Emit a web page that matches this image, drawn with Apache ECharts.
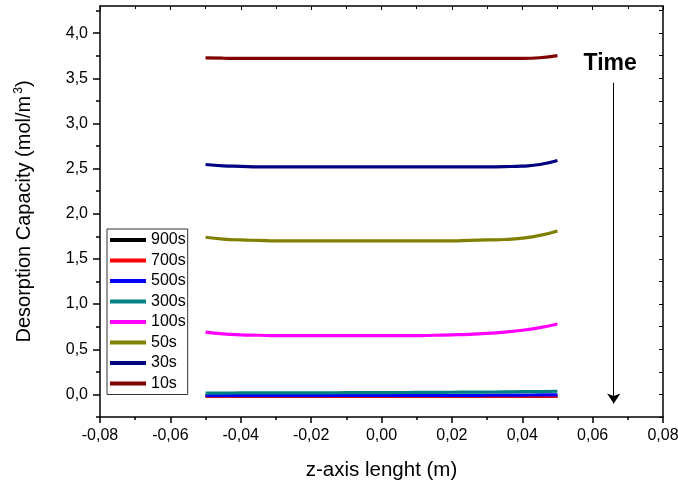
<!DOCTYPE html>
<html>
<head>
<meta charset="utf-8">
<script src="https://cdn.jsdelivr.net/npm/echarts@6/dist/echarts.min.js"></script>
<style>
  html, body { margin: 0; padding: 0; background: #fff; }
  #chart { width: 678px; height: 481px; }
</style>
</head>
<body>
<div id="chart"></div>
<script>
// Position along the column (m)
const zPos = [-0.05, -0.045, -0.04, -0.035, -0.03, -0.025, -0.02, -0.015, -0.01, -0.005, 0,
              0.005, 0.01, 0.015, 0.02, 0.025, 0.03, 0.035, 0.04, 0.045, 0.05];

// Desorption capacity profiles (mol/m3) at each time
const c10s  = [3.725, 3.722, 3.72, 3.72, 3.72, 3.72, 3.72, 3.72, 3.72, 3.72, 3.72,
               3.72, 3.72, 3.72, 3.72, 3.72, 3.72, 3.72, 3.72, 3.727, 3.75];
const c30s  = [2.545, 2.53, 2.525, 2.52, 2.52, 2.52, 2.52, 2.52, 2.52, 2.52, 2.52,
               2.52, 2.52, 2.52, 2.52, 2.52, 2.52, 2.522, 2.528, 2.545, 2.59];
const c50s  = [1.74, 1.72, 1.71, 1.705, 1.70, 1.70, 1.70, 1.70, 1.70, 1.70, 1.70,
               1.70, 1.70, 1.70, 1.70, 1.705, 1.71, 1.715, 1.73, 1.76, 1.81];
const c100s = [0.69, 0.67, 0.66, 0.655, 0.65, 0.65, 0.65, 0.65, 0.65, 0.65, 0.65,
               0.65, 0.65, 0.655, 0.66, 0.665, 0.675, 0.69, 0.71, 0.74, 0.78];
const c300s = [0.015, 0.015, 0.016, 0.016, 0.017, 0.017, 0.018, 0.018, 0.019, 0.019, 0.02,
               0.021, 0.022, 0.023, 0.024, 0.025, 0.026, 0.028, 0.03, 0.032, 0.035];
const c500s = [-0.01, -0.01, -0.01, -0.01, -0.01, -0.01, -0.01, -0.01, -0.01, -0.01, -0.01,
               -0.01, -0.01, -0.01, -0.01, -0.01, -0.009, -0.008, -0.007, -0.006, -0.005];
const c700s = [-0.02, -0.02, -0.02, -0.02, -0.02, -0.02, -0.02, -0.02, -0.02, -0.02, -0.02,
               -0.02, -0.02, -0.02, -0.02, -0.02, -0.02, -0.02, -0.02, -0.02, -0.02];
const c900s = [-0.02, -0.02, -0.02, -0.02, -0.02, -0.02, -0.02, -0.02, -0.02, -0.02, -0.02,
               -0.02, -0.02, -0.02, -0.02, -0.02, -0.02, -0.02, -0.02, -0.02, -0.02];

const seriesNames  = ['900s', '700s', '500s', '300s', '100s', '50s', '30s', '10s'];
const seriesValues = [c900s, c700s, c500s, c300s, c100s, c50s, c30s, c10s];
const seriesColors = ['#000000', '#ff0000', '#0000ff', '#008080', '#ff00ff', '#808000', '#000080', '#800000'];

// Axis ticks
const yMajor = [0, 0.5, 1.0, 1.5, 2.0, 2.5, 3.0, 3.5, 4.0];
const yMinor = [-0.25, 0.25, 0.75, 1.25, 1.75, 2.25, 2.75, 3.25, 3.75, 4.25];
const yAll   = [-0.25, 0, 0.25, 0.5, 0.75, 1.0, 1.25, 1.5, 1.75, 2.0, 2.25, 2.5, 2.75, 3.0, 3.25, 3.5, 3.75, 4.0, 4.25];

// "Time" arrow annotation (data coordinates)
const timeLabel = [0.065, 3.66];
const timeArrow = [[0.066, 3.45], [0.066, -0.1]];

const fontFamily = '"Liberation Sans", Arial, sans-serif';
const comma = (v, d) => v.toFixed(d).replace('.', ',');

const chart = echarts.init(document.getElementById('chart'), null, { renderer: 'canvas' });

const series = seriesNames.map((name, i) => {
  const s = {
    name: name,
    type: 'line',
    smooth: true,
    showSymbol: false,
    symbol: 'none',
    xAxisIndex: 0,
    yAxisIndex: 0,
    data: zPos.map((z, k) => [z, seriesValues[i][k]]),
    lineStyle: { width: 3.2, color: seriesColors[i] },
    itemStyle: { color: seriesColors[i] },
    emphasis: { disabled: true },
    z: 2 + i
  };
  if (i === 0) {
    s.markLine = {
      silent: true,
      symbol: ['none', 'arrow'],
      symbolSize: 10,
      label: { show: false },
      lineStyle: { color: '#000', width: 1, type: 'solid' },
      itemStyle: { color: '#000' },
      data: [[{ coord: timeArrow[0] }, { coord: timeArrow[1] }]]
    };
    s.markPoint = {
      silent: true,
      symbol: 'rect',
      symbolSize: 0,
      label: {
        show: true,
        position: 'inside',
        formatter: 'Time',
        color: '#000',
        fontFamily: fontFamily,
        fontWeight: 'bold',
        fontSize: 23
      },
      data: [{ coord: timeLabel }]
    };
  }
  return s;
});

const option = {
  backgroundColor: '#ffffff',
  animation: false,
  textStyle: { fontFamily: fontFamily },
  grid: { left: 100, right: 15, top: 6, bottom: 64, containLabel: false, outerBoundsMode: 'none' },
  legend: {
    data: seriesNames,
    orient: 'vertical',
    left: 107,
    top: 229,
    icon: 'rect',
    itemWidth: 36,
    itemHeight: 4,
    itemGap: 4.5,
    padding: [3, 2, 3, 3],
    borderColor: '#333',
    borderWidth: 1,
    selectedMode: false,
    textStyle: { fontSize: 16, color: '#000', fontFamily: fontFamily }
  },
  xAxis: [
    {
      type: 'value',
      position: 'bottom',
      min: -0.08,
      max: 0.08,
      interval: 0.02,
      name: 'z-axis lenght (m)',
      nameLocation: 'middle',
      nameGap: 43,
      nameTextStyle: { fontSize: 20.5, color: '#000', fontFamily: fontFamily },
      axisLine: { onZero: false, lineStyle: { color: '#000', width: 1.5 } },
      axisTick: { show: true, inside: false, length: 6, lineStyle: { color: '#000', width: 1.5 } },
      minorTick: { show: true, splitNumber: 2, length: 3, lineStyle: { color: '#000', width: 1.5 } },
      axisLabel: { fontSize: 16, color: '#000', margin: 11, formatter: v => comma(v, 2) },
      splitLine: { show: false }
    },
    {
      type: 'value',
      position: 'top',
      min: -0.08,
      max: 0.08,
      interval: 0.02,
      axisLine: { show: true, onZero: false, lineStyle: { color: '#000', width: 1.5 } },
      axisTick: { show: true, inside: true, length: 4, lineStyle: { color: '#000', width: 1 } },
      minorTick: { show: true, splitNumber: 2, length: 3, lineStyle: { color: '#000', width: 1 } },
      axisLabel: { show: false },
      splitLine: { show: false }
    }
  ],
  yAxis: [
    {
      type: 'value',
      position: 'left',
      min: -0.25,
      max: 4.3,
      name: 'Desorption Capacity (mol/m{sup|3})',
      nameLocation: 'middle',
      nameGap: 64,
      nameTextStyle: {
        fontSize: 20,
        color: '#000',
        fontFamily: fontFamily,
        rich: {
          sup: { fontSize: 12, color: '#000', fontFamily: fontFamily, padding: [0, 0, 11, 2] }
        }
      },
      axisLine: { show: true, onZero: false, lineStyle: { color: '#000', width: 1.5 } },
      axisTick: { show: true, inside: false, length: 7, customValues: yMajor, lineStyle: { color: '#000', width: 1.5 } },
      axisLabel: { fontSize: 16, color: '#000', margin: 12, customValues: yMajor, formatter: v => comma(v, 1) },
      splitLine: { show: false }
    },
    {
      type: 'value',
      position: 'left',
      offset: 0,
      min: -0.25,
      max: 4.3,
      axisLine: { show: false, onZero: false },
      axisTick: { show: true, inside: false, length: 4, customValues: yMinor, lineStyle: { color: '#000', width: 1.5 } },
      axisLabel: { show: false },
      splitLine: { show: false }
    },
    {
      type: 'value',
      position: 'right',
      offset: 0,
      min: -0.25,
      max: 4.3,
      axisLine: { show: true, onZero: false, lineStyle: { color: '#000', width: 1.5 } },
      axisTick: { show: true, inside: true, length: 4, customValues: yAll, lineStyle: { color: '#000', width: 1 } },
      axisLabel: { show: false },
      splitLine: { show: false }
    }
  ],
  series: series
};

chart.setOption(option);
</script>
</body>
</html>
